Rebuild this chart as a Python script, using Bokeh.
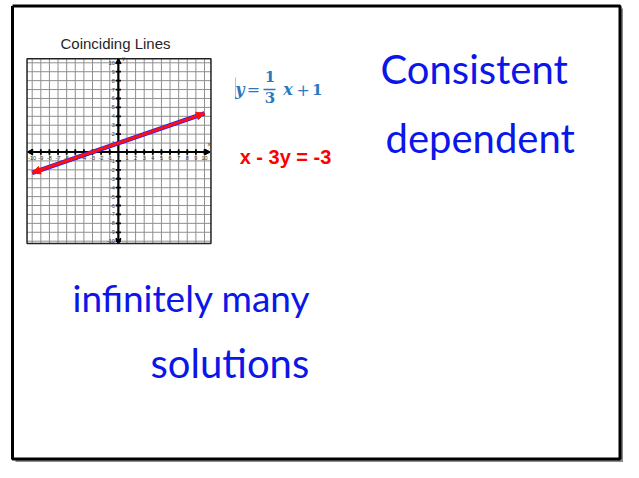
from bokeh.plotting import figure
from bokeh.models import Range1d, Arrow, NormalHead, VeeHead
from bokeh.core.properties import value
from bokeh.embed import file_html
from bokeh.resources import INLINE

# ---------------- data ----------------
chart_title = "Coinciding Lines"
grid_ticks = [-10, -9, -8, -7, -6, -5, -4, -3, -2, -1, 0, 1, 2, 3, 4, 5, 6, 7, 8, 9, 10]
tick_values = [-10, -9, -8, -7, -6, -5, -4, -3, -2, -1, 1, 2, 3, 4, 5, 6, 7, 8, 9, 10]
tick_labels = ["-10", "-9", "-8", "-7", "-6", "-5", "-4", "-3", "-2", "-1",
               "1", "2", "3", "4", "5", "6", "7", "8", "9", "10"]
# line 1 : y = 1/3 x + 1   (red)
line1_x = [-10, 10]
line1_y = [-2.33, 4.33]
# line 2 : x - 3y = -3     (blue)
line2_x = [-10, 10]
line2_y = [-2.33, 4.33]
eq2_label = "x - 3y = -3"
notes_top = ["Consistent", "dependent"]
notes_bottom = ["infinitely many", "solutions"]

# ---------------- layout helpers (picture pixels -> data units) ----------------
W, H = 623, 462
X0, SX = 117.85, 8.615
Y0, SY = 151.5, 8.92


def dx(px):
    return (px - X0) / SX


def dy(py):
    return (Y0 - py) / SY


def base(py, size):
    # text baseline correction for rendered glyph position
    return dy(py - 0.37 * size)


p = figure(width=W, height=H,
           x_range=Range1d(dx(0), dx(W)), y_range=Range1d(dy(H), dy(0)),
           output_backend="svg", toolbar_location=None, min_border=0,
           x_axis_location=None, y_axis_location=None)
p.xgrid.visible = False
p.ygrid.visible = False
p.outline_line_color = None
p.background_fill_color = "white"
p.border_fill_color = "white"

# whiteboard frame with shadow
p.line(x=[dx(15), dx(623), dx(623)], y=[dy(462), dy(462), dy(8)],
       line_color="#8a8a8a", line_width=5)
p.line(x=[dx(12), dx(619.5), dx(619.5), dx(12), dx(12)],
       y=[dy(5.5), dy(5.5), dy(458.5), dy(458.5), dy(5.5)],
       line_color="black", line_width=3)

# ---------------- coordinate grid ----------------
gx0, gx1 = -10.6, 10.75
gy0, gy1 = -10.27, 10.45
p.segment(x0=grid_ticks, y0=[gy0] * len(grid_ticks), x1=grid_ticks, y1=[gy1] * len(grid_ticks),
          line_color="#8f8f8f", line_width=1)
p.segment(x0=[gx0] * len(grid_ticks), y0=grid_ticks, x1=[gx1] * len(grid_ticks), y1=grid_ticks,
          line_color="#8f8f8f", line_width=1)
p.quad(left=[gx0], right=[gx1], bottom=[gy0], top=[gy1],
       fill_color=None, line_color="#222222", line_width=1.5)

# axes
p.segment(x0=[-10.45, 0], y0=[0, -10.2], x1=[10.55, 0], y1=[0, 10.4],
          line_color="black", line_width=2.2)
for (xs, ys, xe, ye) in [(0, 0, -10.5, 0), (0, 0, 10.6, 0), (0, 0, 0, -10.25), (0, 0, 0, 10.45)]:
    p.add_layout(Arrow(end=VeeHead(size=5, line_color="black", line_width=1.5),
                       x_start=xs, y_start=ys, x_end=xe, y_end=ye, line_alpha=0))
# tick marks
p.segment(x0=tick_values, y0=[-0.3] * len(tick_values), x1=tick_values, y1=[0.3] * len(tick_values),
          line_color="black", line_width=1.8)
p.segment(x0=[-0.3] * len(tick_values), y0=tick_values, x1=[0.3] * len(tick_values), y1=tick_values,
          line_color="black", line_width=1.8)
# tick labels
p.text(x=tick_values, y=[-0.45] * len(tick_values), text=tick_labels,
       text_font=value("Liberation Sans"), text_font_size="5.5px", text_color="#333333",
       text_align="center", text_baseline="top")
p.text(x=[-0.4] * len(tick_values), y=tick_values, text=tick_labels,
       text_font=value("Liberation Sans"), text_font_size="5.5px", text_color="#333333",
       text_align="right", text_baseline="middle")
p.text(x=[10.35, 0.45], y=[0.55, 10.15], text=["x", "y"],
       text_font=value("Liberation Sans"), text_font_size="6px", text_color="#333333",
       text_align="left", text_baseline="bottom")

# data lines
p.line(x=line2_x, y=line2_y, line_color="#1f1fff", line_width=4.5)
p.line(x=line1_x, y=line1_y, line_color="#ff1010", line_width=3)
p.add_layout(Arrow(start=NormalHead(size=8, fill_color="#ff1010", line_color="#ff1010"),
                   end=NormalHead(size=8, fill_color="#ff1010", line_color="#ff1010"),
                   x_start=line1_x[0], y_start=line1_y[0], x_end=line1_x[1], y_end=line1_y[1],
                   line_alpha=0))

# title
p.text(x=[dx(115)], y=[dy(43)], text=[chart_title],
       text_font=value("Liberation Sans"), text_font_size="15px", text_color="#262626",
       text_align="center", text_baseline="middle")

# ---------------- equation 1 (blue, math style) ----------------
eq_col = "#2a78bd"
p.segment(x0=[dx(235)], y0=[dy(77)], x1=[dx(235)], y1=[dy(99)], line_color="#bbbbbb", line_width=1)
p.text(x=[dx(239.5), dx(287.5)], y=[base(95, 16), base(95, 16)], text=["y", "x"],
       text_font=value("DejaVu Serif"), text_font_style="bold italic", text_font_size="16px",
       text_color=eq_col, text_align="center", text_baseline="alphabetic")
p.text(x=[dx(253), dx(302.8)], y=[base(95, 16), base(95, 16)], text=["=", "+"],
       text_font=value("DejaVu Serif"), text_font_size="16px",
       text_color=eq_col, text_align="center", text_baseline="alphabetic")
p.text(x=[dx(269.5), dx(269.5), dx(316.7)], y=[base(82, 15), base(103, 15), base(95, 15)],
       text=["1", "3", "1"],
       text_font=value("DejaVu Serif"), text_font_style="bold", text_font_size="15px",
       text_color=eq_col, text_align="center", text_baseline="alphabetic")
p.segment(x0=[dx(263)], y0=[dy(89)], x1=[dx(275)], y1=[dy(89)], line_color=eq_col, line_width=1.3)

# equation 2 (red)
p.text(x=[dx(285)], y=[base(163.5, 20)], text=[eq2_label],
       text_font=value("Liberation Sans"), text_font_style="bold", text_font_size="20px",
       text_color="#ff0000", text_align="center", text_baseline="alphabetic")

# ---------------- handwritten notes ----------------
ink = "#0b16e8"
p.text(x=[dx(380), dx(385)], y=[base(83, 40), base(152, 40)], text=notes_top,
       text_font=value("Lato"), text_font_size="40px", text_color=ink,
       text_align="left", text_baseline="alphabetic")
p.text(x=[dx(72)], y=[base(311, 37)], text=notes_bottom[:1],
       text_font=value("Lato"), text_font_size="37px", text_color=ink,
       text_align="left", text_baseline="alphabetic")
p.text(x=[dx(150)], y=[base(377, 40)], text=notes_bottom[1:],
       text_font=value("Lato"), text_font_size="40px", text_color=ink,
       text_align="left", text_baseline="alphabetic")

open("out.html", "w").write(file_html(p, INLINE))
